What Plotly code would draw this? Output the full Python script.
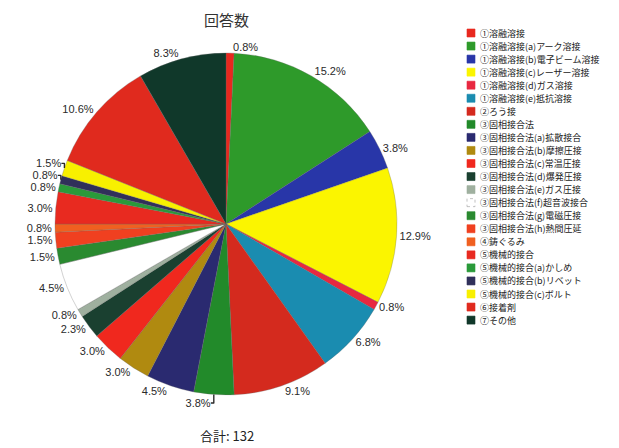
import plotly.graph_objects as go

labels = [
    "①溶融溶接",
    "①溶融溶接(a)アーク溶接",
    "①溶融溶接(b)電子ビーム溶接",
    "①溶融溶接(c)レーザー溶接",
    "①溶融溶接(d)ガス溶接",
    "①溶融溶接(e)抵抗溶接",
    "②ろう接",
    "③固相接合法",
    "③固相接合法(a)拡散接合",
    "③固相接合法(b)摩擦圧接",
    "③固相接合法(c)常温圧接",
    "③固相接合法(d)爆発圧接",
    "③固相接合法(e)ガス圧接",
    "③固相接合法(f)超音波接合",
    "③固相接合法(g)電磁圧接",
    "③固相接合法(h)熱間圧延",
    "④鋳ぐるみ",
    "⑤機械的接合",
    "⑤機械的接合(a)かしめ",
    "⑤機械的接合(b)リベット",
    "⑤機械的接合(c)ボルト",
    "⑥接着剤",
    "⑦その他",
]
counts = [1, 20, 5, 17, 1, 9, 12, 5, 6, 4, 4, 3, 1, 6, 2, 2, 1, 4, 1, 1, 2, 14, 11]
colors = [
    "#e8281e", "#2e9a2a", "#2836a8", "#fbf500", "#e82840", "#1a8cb0",
    "#d42a1e", "#228a2a", "#2a2a70", "#b08a10", "#f0281e", "#1a4030",
    "#9fb09f", "#ffffff", "#2a8a30", "#f04020", "#f06020", "#e82a20",
    "#2a9a3a", "#30305a", "#f8f000", "#e02a1e", "#10382a",
]
total = sum(counts)

W, H = 619, 448
cx, cy, r = 226, 224, 171

fig = go.Figure(go.Pie(
    labels=labels,
    values=counts,
    sort=False,
    direction="clockwise",
    rotation=0,
    marker=dict(colors=colors, line=dict(color="#666666", width=0.3)),
    textinfo="percent",
    texttemplate="%{percent:.1%}",
    textposition="outside",
    textfont=dict(size=11, color="#2a2a2a", family="Liberation Sans, Arial"),
    domain=dict(x=[(cx - r) / W, (cx + r) / W], y=[1 - (cy + r) / H, 1 - (cy - r) / H]),
    showlegend=False,
))

shapes = []
annotations = [
    dict(text="回答数", x=226 / W, y=1 - 19 / H, xref="paper", yref="paper",
         xanchor="center", yanchor="middle",
         showarrow=False, font=dict(size=15, color="#333333", family="Noto Sans CJK JP")),
    dict(text=f"合計: {total}", x=227 / W, y=1 - 435 / H, xref="paper", yref="paper",
         xanchor="center", yanchor="middle",
         showarrow=False, font=dict(size=13, color="#222222", family="Noto Sans CJK JP")),
]

# manual legend (compact rows like the reference)
lx0, ly0, step, ms = 467, 33, 13.05, 8
for i, (lab, col) in enumerate(zip(labels, colors)):
    yc = ly0 + i * step
    shapes.append(dict(
        type="rect", xref="paper", yref="paper",
        x0=lx0 / W, x1=(lx0 + ms) / W,
        y0=1 - (yc + ms / 2) / H, y1=1 - (yc - ms / 2) / H,
        fillcolor=col,
        line=dict(color="#999999" if col == "#ffffff" else col, width=0.6,
                  dash="dot" if col == "#ffffff" else "solid"),
    ))
    annotations.append(dict(
        text=lab, x=(lx0 + ms + 3) / W, y=1 - yc / H, xref="paper", yref="paper",
        xanchor="left", yanchor="middle", showarrow=False,
        font=dict(size=9, color="#222222", family="Noto Sans CJK JP"),
    ))

fig.update_layout(
    width=W, height=H,
    margin=dict(l=0, r=0, t=0, b=0),
    paper_bgcolor="white",
    plot_bgcolor="white",
    showlegend=False,
    shapes=shapes,
    annotations=annotations,
)

fig.write_html(
    "out.html",
    config={"displayModeBar": False},
    post_script="document.body.style.margin='0';document.body.style.overflow='hidden';",
)
